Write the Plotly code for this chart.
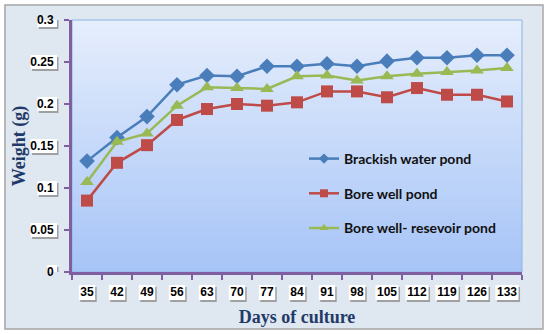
import plotly.graph_objects as go

days = ["35", "42", "49", "56", "63", "70", "77", "84", "91", "98", "105", "112", "119", "126", "133"]
brackish = [0.132, 0.160, 0.185, 0.223, 0.234, 0.233, 0.245, 0.245, 0.248, 0.245, 0.251, 0.255, 0.255, 0.258, 0.258]
borewell = [0.085, 0.130, 0.151, 0.181, 0.194, 0.200, 0.198, 0.202, 0.215, 0.215, 0.208, 0.219, 0.211, 0.211, 0.203]
reservoir = [0.107, 0.155, 0.165, 0.198, 0.220, 0.219, 0.218, 0.233, 0.234, 0.228, 0.233, 0.236, 0.238, 0.240, 0.243]
yticks = [0, 0.05, 0.1, 0.15, 0.2, 0.25, 0.3]
ytext = ["0", "0.05", "0.1", "0.15", "0.2", "0.25", "0.3"]

W, H = 547, 334
L, R, T, B = 72, 25, 20, 62
pw, ph = W - L - R, H - T - B

def px(x):
    return (x - L) / pw

def py(y):
    return (H - B - y) / ph

fig = go.Figure()
series = [
    ("Brackish water pond", brackish, "#4a7ebb", "diamond", 12, 8),
    ("Bore well pond", borewell, "#be4b48", "square", 12, 8),
    ("Bore well- resevoir pond", reservoir, "#98b954", "triangle-up", 12, 8),
]
for i, (name, vals, col, sym, sz, lsz) in enumerate(series):
    fig.add_trace(go.Scatter(
        x=days, y=vals, name=name, mode="lines+markers",
        line=dict(color=col, width=2.5),
        marker=dict(symbol=sym, size=sz, color=col),
        showlegend=False,
    ))
for i, (name, vals, col, sym, sz, lsz) in enumerate(series):
    fig.add_trace(go.Scatter(
        x=[None], y=[None], name=name, mode="lines+markers",
        line=dict(color=col, width=2.5),
        marker=dict(symbol=sym, size=lsz, color=col),
        legendgroup=f"g{i}", showlegend=True,
    ))

shapes = []
# white outer margin and grey frame
shapes.append(dict(type="rect", xref="paper", yref="paper",
                   x0=px(0), x1=px(W), y0=py(H), y1=py(0),
                   fillcolor="rgba(0,0,0,0)", line=dict(color="white", width=9), layer="below"))
shapes.append(dict(type="rect", xref="paper", yref="paper",
                   x0=px(5), x1=px(543), y0=py(329), y1=py(5),
                   fillcolor="rgba(0,0,0,0)", line=dict(color="#a6a6a6", width=1.5), layer="below"))
# gradient plot area
n = 60
top = (0xe6, 0xee, 0xfc)
bot = (0xa6, 0xc4, 0xf7)
for k in range(n):
    t = (k + 0.5) / n
    c = tuple(int(round(top[j] + (bot[j] - top[j]) * t)) for j in range(3))
    shapes.append(dict(type="rect", xref="paper", yref="paper",
                       x0=0, x1=1, y0=1 - (k + 1) / n, y1=1 - k / n + 0.002,
                       fillcolor="rgb(%d,%d,%d)" % c, line=dict(width=0), layer="below"))
shapes.append(dict(type="rect", xref="paper", yref="paper", x0=0, x1=1, y0=0, y1=1,
                   line=dict(color="#8eb4e3", width=1), layer="below"))

# white label boxes behind tick labels
def tw(s):
    return 6.7 * len(s.replace(".", "")) + 3.3 * s.count(".") + 3

for v, s in zip(yticks, ytext):
    w = tw(s)
    for dx, dy, colr in [(1.5, 2, "#a0a0a0"), (0, 0, "white")]:
        shapes.append(dict(type="rect", xref="paper", yref="y",
                           x0=px(57 - w + dx), x1=px(57 + dx),
                           y0=v - (7 + dy) / 840, y1=v + (7 - dy) / 840,
                           fillcolor=colr, line=dict(width=0), layer="below"))
for d in days:
    w = tw(d)
    for dx, dy, colr in [(1.5, 2, "#a0a0a0"), (0, 0, "white")]:
        shapes.append(dict(type="rect", xref="x", yref="paper",
                           x0=days.index(d) - (w / 2 - dx) / 30, x1=days.index(d) + (w / 2 + dx) / 30,
                           y0=py(300 + dy), y1=py(285 + dy),
                           fillcolor=colr, line=dict(width=0), layer="below"))

tick_font = dict(family="Liberation Sans", size=12, color="black", weight="bold")
title_font = dict(family="Liberation Serif", size=18, color="#1f3a68", weight="bold")

fig.update_layout(
    template="none",
    width=W, height=H,
    margin=dict(l=L, r=R, t=T, b=B),
    paper_bgcolor="#dfe7f1",
    plot_bgcolor="rgba(0,0,0,0)",
    shapes=shapes,
    showlegend=True,
    legend=dict(x=px(304), y=py(143), xanchor="left", yanchor="top",
                bgcolor="rgba(0,0,0,0)", tracegroupgap=13.5,
                font=dict(family="Lato", size=14, color="#111111", weight="bold"),
                itemwidth=30),
    xaxis=dict(
        type="category", tickson="boundaries", ticks="outside", ticklen=5,
        tickcolor="#7f5fa0", tickwidth=2, automargin=False, tickangle=0,
        showline=True, linecolor="#7f5fa0", linewidth=3,
        showgrid=False, zeroline=False, ticklabelstandoff=7,
        tickfont=tick_font,
        title=dict(text="Days of culture", standoff=12, font=title_font),
        range=[-0.5, 14.5],
    ),
    yaxis=dict(
        range=[0, 0.3], tickvals=yticks, ticktext=ytext, ticks="outside", ticklen=5,
        tickcolor="#7f5fa0", tickwidth=2, automargin=False,
        showline=True, linecolor="#7f5fa0", linewidth=3,
        showgrid=False, zeroline=False, ticklabelstandoff=8,
        tickfont=tick_font,
        title=dict(text="Weight (g)", standoff=0, font=title_font),
    ),
)
fig.write_html("out.html", config={"displayModeBar": False},
               post_script="document.body.style.margin='0';")
